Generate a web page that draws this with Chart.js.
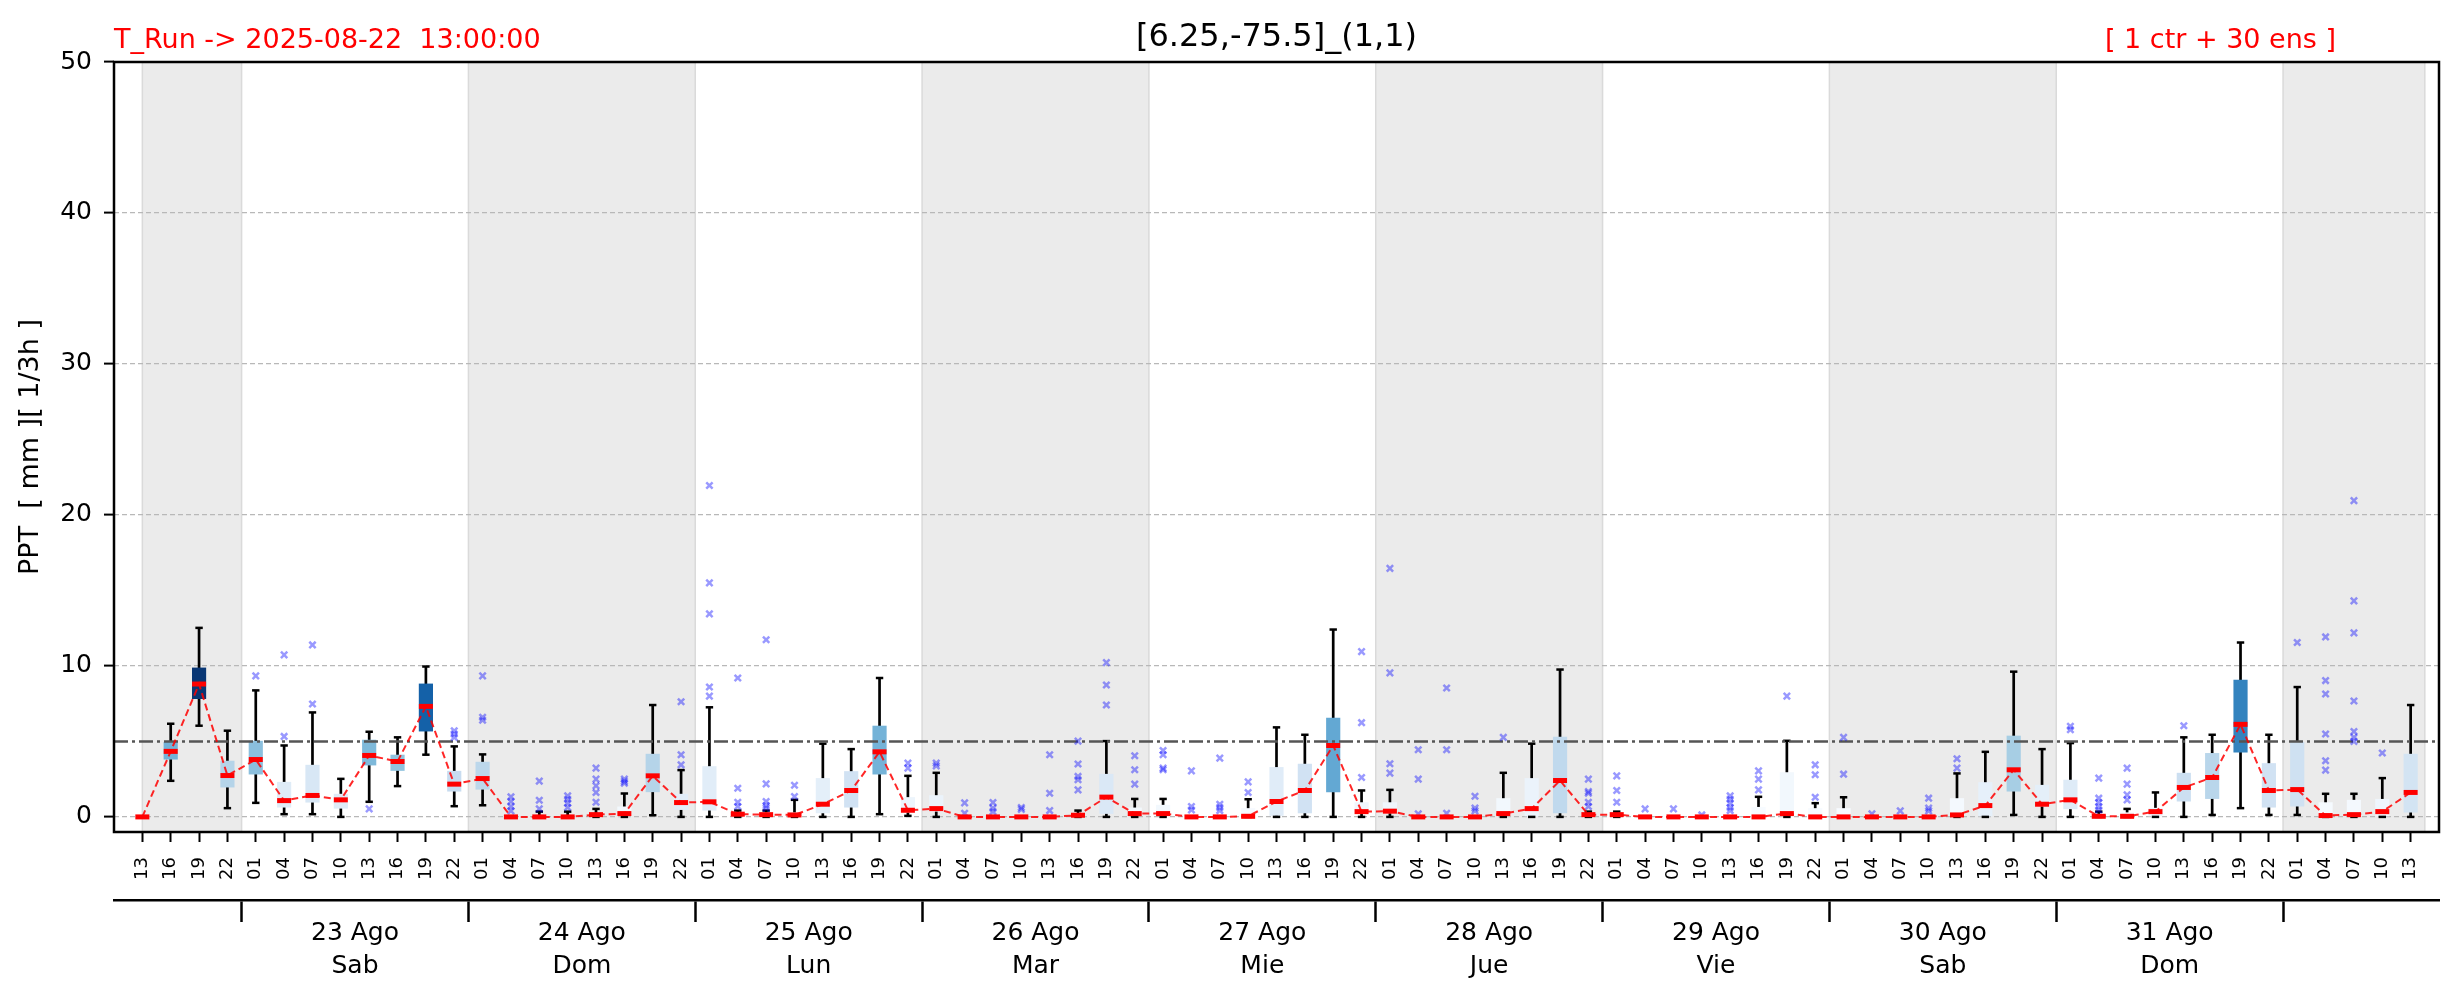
<!DOCTYPE html>
<html>
<head>
<meta charset="utf-8">
<script src="https://cdn.jsdelivr.net/npm/chart.js@4.4.1/dist/chart.umd.min.js"></script>
<style>
  html, body { margin: 0; padding: 0; background: #fff; }
  canvas { display: block; }
</style>
</head>
<body>
<canvas id="ppt" width="2459" height="1001"></canvas>
<script>
const runLabel = 'T_Run -> 2025-08-22  13:00:00';
const pointLabel = '[6.25,-75.5]_(1,1)';
const ensLabel = '[ 1 ctr + 30 ens ]';
const yTitle = 'PPT  [ mm ][ 1/3h ]';

// one entry per 3h step, 22 Aug 13h -> 01 Sep 13h
const hours = [
    '13', '16', '19', '22',
    '01', '04', '07', '10', '13', '16', '19', '22',
    '01', '04', '07', '10', '13', '16', '19', '22',
    '01', '04', '07', '10', '13', '16', '19', '22',
    '01', '04', '07', '10', '13', '16', '19', '22',
    '01', '04', '07', '10', '13', '16', '19', '22',
    '01', '04', '07', '10', '13', '16', '19', '22',
    '01', '04', '07', '10', '13', '16', '19', '22',
    '01', '04', '07', '10', '13', '16', '19', '22',
    '01', '04', '07', '10', '13', '16', '19', '22',
    '01', '04', '07', '10', '13',
];
const dayLabels = ['23 Ago', '24 Ago', '25 Ago', '26 Ago', '27 Ago', '28 Ago', '29 Ago', '30 Ago', '31 Ago'];
const dayNames = ['Sab', 'Dom', 'Lun', 'Mar', 'Mie', 'Jue', 'Vie', 'Sab', 'Dom'];
const yTicks = [0, 10, 20, 30, 40, 50];
const threshold = 5;

const lo = [
    0, 2.39, 6.04, 0.58,
    0.93, 0.18, 0.18, 0, 1.0, 2.04, 4.12, 0.71,
    0.77, 0, 0, 0, 0, 0, 0.11, 0,
    0, 0, 0, 0, 0, 0, 0.18, 0.07,
    0, 0, 0, 0, 0, 0, 0, 0,
    0, 0, 0, 0, 0, 0, 0, 0,
    0, 0, 0, 0, 0, 0, 0, 0,
    0, 0, 0, 0, 0, 0, 0, 0,
    0, 0, 0, 0, 0, 0, 0.13, 0,
    0, 0, 0, 0, 0, 0.13, 0.58, 0.13,
    0.13, 0, 0, 0, 0,
];
const q1 = [
    0, 3.8, 7.81, 1.95,
    2.81, 0.62, 0.95, 0.55, 3.41, 3.05, 5.66, 1.68,
    1.81, 0, 0, 0, 0, 0, 1.64, 0.46,
    0.42, 0, 0, 0, 0.24, 0.62, 2.81, 0.29,
    0.35, 0, 0, 0, 0, 0, 0.2, 0.1,
    0.1, 0, 0, 0, 0.07, 0.24, 1.64, 0.29,
    0.24, 0, 0, 0, 0, 0, 0.24, 0,
    0, 0, 0, 0, 0, 0, 0, 0,
    0, 0, 0, 0, 0, 0, 1.68, 0.69,
    0.51, 0, 0, 0, 1.02, 1.19, 4.27, 0.62,
    0.69, 0, 0, 0, 0.29,
];
const med = [
    0, 4.34, 8.8, 2.74,
    3.8, 1.08, 1.42, 1.13, 4.07, 3.67, 7.32, 2.17,
    2.54, 0, 0, 0, 0.15, 0.22, 2.72, 0.95,
    1.0, 0.18, 0.15, 0.13, 0.84, 1.75, 4.31, 0.44,
    0.55, 0, 0, 0, 0, 0.11, 1.31, 0.22,
    0.22, 0, 0, 0.04, 1.02, 1.75, 4.73, 0.35,
    0.38, 0, 0, 0, 0.22, 0.55, 2.41, 0.15,
    0.15, 0, 0, 0, 0, 0, 0.22, 0,
    0, 0, 0, 0, 0.13, 0.75, 3.12, 0.84,
    1.13, 0.04, 0.04, 0.35, 1.95, 2.61, 6.13, 1.75,
    1.81, 0.09, 0.15, 0.35, 1.62,
];
const q3 = [
    0, 4.96, 9.89, 3.72,
    5.04, 2.32, 3.45, 1.53, 5.11, 4.12, 8.83, 3.05,
    3.65, 0, 0.1, 0, 0.2, 0.69, 4.18, 1.53,
    3.36, 0.3, 0.3, 0.3, 2.57, 3.03, 6.04, 1.31,
    1.44, 0, 0, 0, 0, 0.2, 2.85, 0.62,
    0.8, 0, 0, 0.58, 3.3, 3.52, 6.57, 0.97,
    0.97, 0, 0, 0, 1.24, 2.57, 5.31, 0.25,
    0.25, 0, 0, 0, 0, 0.66, 2.96, 0.58,
    0.58, 0, 0, 0, 1.24, 2.3, 5.38, 2.12,
    2.46, 0.2, 0.3, 0.6, 2.92, 4.23, 9.09, 3.56,
    4.96, 0.97, 1.13, 1.19, 4.18,
];
const hi = [
    0, 6.17, 12.52, 5.71,
    8.38, 4.73, 6.92, 2.52, 5.64, 5.27, 9.96, 4.67,
    4.14, 0, 0.35, 0.35, 0.53, 1.55, 7.41, 3.1,
    7.26, 0.42, 0.42, 1.13, 4.85, 4.49, 9.2, 2.72,
    2.92, 0, 0, 0, 0, 0.42, 5.02, 1.19,
    1.19, 0, 0, 1.17, 5.93, 5.44, 12.41, 1.75,
    1.79, 0, 0, 0, 2.92, 4.85, 9.76, 0.35,
    0.35, 0, 0, 0, 0, 1.33, 5.04, 0.91,
    1.3, 0, 0, 0, 2.88, 4.31, 9.62, 4.49,
    4.89, 0.35, 0.53, 1.62, 5.27, 5.44, 11.55, 5.44,
    8.6, 1.53, 1.53, 2.57, 7.41,
];
const outliers = [
    [], [], [], [],
    [9.34], [10.73, 5.33], [11.39, 7.48], [], [0.53], [], [], [5.71, 5.49, 5.27],
    [9.34, 6.6, 6.4], [1.33, 1.02, 0.69, 0.4], [2.37, 1.1, 0.53], [1.39, 1.17, 0.91, 0.62],
    [3.23, 2.5, 2.06, 1.62, 0.97], [2.5, 2.35, 2.23], [], [7.63, 4.12, 3.45],
    [21.95, 15.5, 13.45, 8.6, 8.0], [9.2, 1.9, 0.97, 0.69], [11.73, 2.19, 1.02, 0.75, 0.58], [2.1, 1.35],
    [], [], [], [3.56, 3.23],
    [3.56, 3.38], [0.93, 0.24], [0.95, 0.58, 0.35], [0.62, 0.5],
    [4.12, 1.57, 0.42], [5.02, 3.5, 2.68, 2.46, 1.79], [10.22, 8.74, 7.41], [4.05, 3.12, 2.17],
    [4.4, 4.12, 3.23, 3.12], [3.05, 0.69, 0.46], [3.89, 0.84, 0.62, 0.42], [2.32, 1.62],
    [], [], [], [10.95, 6.24, 2.61],
    [16.46, 9.54, 3.52, 2.9], [4.45, 2.5, 0.2], [8.54, 4.45, 0.24], [1.37, 0.58, 0.4],
    [5.27], [], [], [2.5, 1.68, 1.57, 0.97, 0.69],
    [2.72, 1.75, 0.97], [0.53], [0.53], [0.13],
    [1.39, 1.17, 0.91, 0.62, 0.42], [3.05, 2.5, 1.79], [8.0], [3.45, 2.79, 1.3],
    [5.27, 2.83], [0.2], [0.4], [1.24, 0.58, 0.4],
    [3.85, 3.23], [], [], [],
    [6.0, 5.77], [2.57, 1.24, 0.95, 0.69, 0.46], [3.23, 2.17, 1.46, 1.13], [],
    [6.04], [], [], [],
    [11.55], [11.92, 9.03, 8.14, 5.49, 3.72, 3.1], [20.95, 14.31, 12.19, 7.68, 5.66, 5.27, 5.0], [4.23], [],
];

const xMin = -1;
const xMax = hours.length;
const idx = hours.map((_, i) => i);

// day boundaries sit half a step before each 01h
const bounds = idx.filter(i => hours[i] === '01').map(i => i - 0.5);
const dayCenters = bounds.slice(0, -1).map((b, k) => (b + bounds[k + 1]) / 2);
const segments = [0, ...bounds].map((s, k, arr) => [s, k < arr.length - 1 ? arr[k + 1] : hours.length - 0.5]);

const bluesStops = ['#f7fbff', '#deebf7', '#c6dbef', '#9ecae1', '#6baed6', '#4292c6', '#2171b5', '#08519c', '#08306b'];
function blues(t) {
    t = Math.max(0, Math.min(1, t)) * (bluesStops.length - 1);
    const k = Math.min(Math.floor(t), bluesStops.length - 2);
    const f = t - k;
    const a = bluesStops[k], b = bluesStops[k + 1];
    const c = j => {
        const va = parseInt(a.substr(j, 2), 16), vb = parseInt(b.substr(j, 2), 16);
        return Math.round(va + (vb - va) * f);
    };
    return `rgb(${c(1)},${c(3)},${c(5)})`;
}

const font = 'DejaVu Sans';
Chart.defaults.font.family = font;
Chart.defaults.color = '#000';

const overlay = {
    id: 'overlay',
    beforeDraw(chart) {
        const { ctx, chartArea: a, scales: { x } } = chart;
        ctx.save();
        segments.forEach(([s, e], k) => {
            if (k % 2) return;
            const x0 = x.getPixelForValue(s), x1 = x.getPixelForValue(e);
            ctx.fillStyle = '#ebebeb';
            ctx.fillRect(x0, a.top, x1 - x0, a.bottom - a.top);
            ctx.strokeStyle = '#dadada';
            ctx.lineWidth = 1.5;
            ctx.beginPath();
            ctx.moveTo(x0, a.top); ctx.lineTo(x0, a.bottom);
            ctx.moveTo(x1, a.top); ctx.lineTo(x1, a.bottom);
            ctx.stroke();
        });
        ctx.restore();
    },
    afterDraw(chart) {
        const { ctx, chartArea: a } = chart;
        ctx.save();
        ctx.strokeStyle = '#000';
        ctx.lineWidth = 2.5;
        ctx.strokeRect(a.left, a.top, a.right - a.left, a.bottom - a.top);

        ctx.textBaseline = 'alphabetic';
        ctx.font = `27px "${font}"`;
        ctx.fillStyle = 'red';
        ctx.textAlign = 'left';
        ctx.fillText(runLabel, a.left, a.top - 14);
        ctx.textAlign = 'right';
        ctx.fillText(ensLabel, a.right - 103, a.top - 14);

        ctx.font = `32px "${font}"`;
        ctx.fillStyle = '#000';
        ctx.textAlign = 'center';
        ctx.fillText(pointLabel, (a.left + a.right) / 2, a.top - 16);

        ctx.font = `27px "${font}"`;
        ctx.translate(31, (a.top + a.bottom) / 2);
        ctx.rotate(-Math.PI / 2);
        ctx.textBaseline = 'middle';
        ctx.fillText(yTitle, 0, 0);
        ctx.restore();
    },
};

new Chart(document.getElementById('ppt'), {
    data: {
        datasets: [
            {
                type: 'line',
                order: 0,
                data: idx.map(i => ({ x: i, y: med[i] })),
                borderColor: 'rgba(255,0,0,0.85)',
                borderWidth: 2,
                borderDash: [7, 4],
                tension: 0,
                fill: false,
                pointStyle: 'line',
                pointRadius: 7,
                pointBorderWidth: 5,
                pointBorderColor: '#ff0000',
                pointBackgroundColor: '#ff0000',
            },
            {
                type: 'scatter',
                order: 1,
                data: idx.flatMap(i => outliers[i].map(v => ({ x: i, y: v }))),
                pointStyle: 'crossRot',
                pointRadius: 4.5,
                pointBorderWidth: 2.5,
                pointBorderColor: 'rgba(0,0,255,0.4)',
                pointBackgroundColor: 'rgba(0,0,255,0.4)',
            },
            {
                type: 'line',
                order: 2,
                data: [{ x: xMin, y: threshold }, { x: xMax, y: threshold }],
                borderColor: '#555',
                borderWidth: 2.5,
                borderDash: [14, 4, 3, 4],
                pointRadius: 0,
            },
            {
                type: 'scatter',
                order: 3,
                data: idx.flatMap(i => hi[i] > lo[i] ? [{ x: i, y: lo[i] }, { x: i, y: hi[i] }] : []),
                pointStyle: 'line',
                pointRadius: 3.7,
                pointBorderWidth: 2.5,
                pointBorderColor: '#000',
            },
            {
                type: 'bar',
                order: 4,
                grouped: false,
                data: idx.map(i => ({ x: i, y: q3[i] > q1[i] ? [q1[i], q3[i]] : null })),
                backgroundColor: idx.map(i => blues(med[i] / 9)),
                categoryPercentage: 1,
                barPercentage: 0.5,
            },
            {
                type: 'bar',
                order: 5,
                grouped: false,
                data: idx.map(i => ({ x: i, y: hi[i] > lo[i] ? [lo[i], hi[i]] : null })),
                backgroundColor: '#000',
                categoryPercentage: 1,
                barPercentage: 0.095,
            },
        ],
    },
    options: {
        responsive: false,
        animation: false,
        devicePixelRatio: 1,
        events: [],
        layout: { padding: { top: 62, right: 20, left: 0, bottom: 0 } },
        plugins: { legend: { display: false }, tooltip: { enabled: false } },
        scales: {
            x: {
                type: 'linear',
                position: 'bottom',
                offset: false,
                min: xMin,
                max: xMax,
                afterBuildTicks: s => { s.ticks = idx.map(i => ({ value: i })); },
                afterFit: s => { s.height = 68; },
                ticks: {
                    autoSkip: false,
                    minRotation: 90,
                    maxRotation: 90,
                    padding: 15,
                    font: { size: 18 },
                    callback: v => hours[v],
                },
                grid: { offset: false, drawOnChartArea: false, tickLength: 10, tickColor: '#000', tickWidth: 2 },
                border: { display: false },
            },
            day: {
                type: 'linear',
                position: 'bottom',
                offset: false,
                min: xMin,
                max: xMax,
                afterBuildTicks: s => {
                    s.ticks = [...bounds, ...dayCenters].sort((a, b) => a - b).map(v => ({ value: v }));
                },
                afterFit: s => { s.height = 101; },
                ticks: {
                    autoSkip: false,
                    maxRotation: 0,
                    padding: -5,
                    font: { size: 25, lineHeight: 1.32 },
                    callback: v => {
                        const k = dayCenters.indexOf(v);
                        return k < 0 ? '' : [dayLabels[k], dayNames[k]];
                    },
                },
                grid: {
                    offset: false,
                    drawOnChartArea: false,
                    tickLength: 22,
                    tickWidth: 2.5,
                    tickColor: c => bounds.includes(c.tick.value) ? '#000' : 'rgba(0,0,0,0)',
                },
                border: { display: true, color: '#000', width: 2.5 },
            },
            y: {
                type: 'linear',
                min: -1,
                max: 50,
                afterBuildTicks: s => { s.ticks = yTicks.map(v => ({ value: v })); },
                afterFit: s => { s.width = 114; },
                ticks: { padding: 12, font: { size: 25 } },
                grid: { color: '#b8b8b8', lineWidth: 1.2, tickLength: 10, tickColor: '#000', tickWidth: 2 },
                border: { display: false, dash: [5, 3] },
            },
        },
    },
    plugins: [overlay],
});
</script>
</body>
</html>
